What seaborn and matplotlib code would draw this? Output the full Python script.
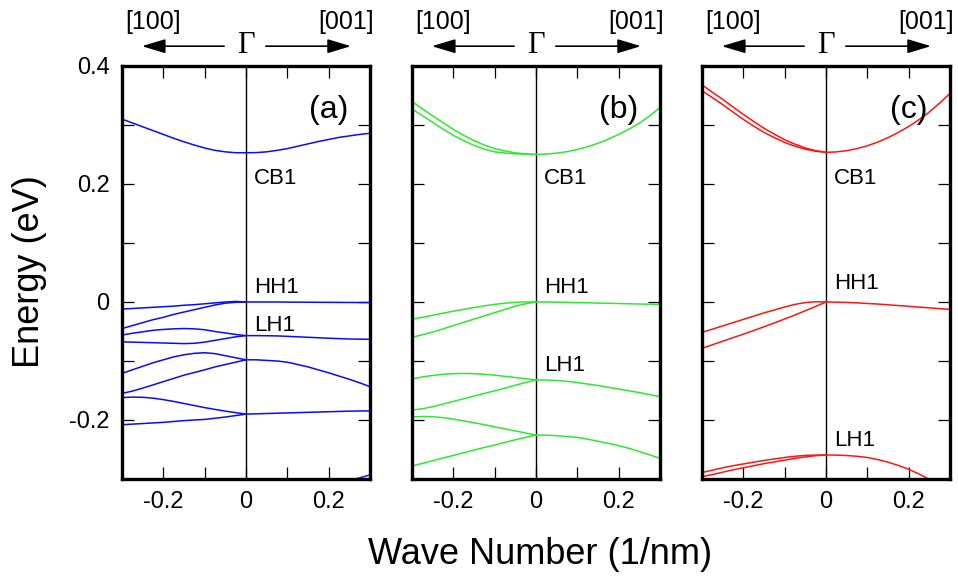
import matplotlib
matplotlib.use("Agg")
import matplotlib.pyplot as plt
from matplotlib.ticker import FixedLocator, FuncFormatter
import numpy as np
import pandas as pd
import seaborn as sns

# Wave-number grids (1/nm): [100] direction on the left of Gamma, [001] on the right
K_LEFT = [-0.3, -0.275, -0.25, -0.225, -0.2, -0.175, -0.15, -0.125, -0.1, -0.075, -0.05, -0.025, 0.0]
K_RIGHT = [0.0, 0.025, 0.05, 0.075, 0.1, 0.125, 0.15, 0.175, 0.2, 0.225, 0.25, 0.275, 0.3]
K_TAIL = [0.2, 0.225, 0.25, 0.275, 0.3]

# Panel (a): subband energies (eV)
A_LEFT_CB1 = [0.310, 0.3035, 0.297, 0.2905, 0.284, 0.2775, 0.2715, 0.266, 0.261, 0.257, 0.2545, 0.253, 0.253]
A_LEFT_HH1a = [-0.012, -0.011, -0.010, -0.009, -0.008, -0.007, -0.0055, -0.0045, -0.003, -0.0015, 0.0, 0.001, 0.0]
A_LEFT_HH1b = [-0.045, -0.040, -0.035, -0.030, -0.026, -0.021, -0.017, -0.013, -0.009, -0.005, -0.002, -0.0005, 0.0]
A_LEFT_LH1a = [-0.056, -0.053, -0.0505, -0.048, -0.0465, -0.0455, -0.045, -0.0455, -0.047, -0.050, -0.0525, -0.055, -0.057]
A_LEFT_LH1b = [-0.0675, -0.068, -0.0685, -0.069, -0.0695, -0.070, -0.0705, -0.070, -0.068, -0.065, -0.062, -0.059, -0.057]
A_LEFT_V3a = [-0.121, -0.115, -0.109, -0.103, -0.098, -0.093, -0.0895, -0.087, -0.086, -0.0875, -0.091, -0.0945, -0.098]
A_LEFT_V3b = [-0.155, -0.151, -0.146, -0.1405, -0.135, -0.1295, -0.124, -0.1195, -0.115, -0.110, -0.106, -0.102, -0.098]
A_LEFT_V4a = [-0.162, -0.1612, -0.1615, -0.163, -0.1655, -0.1685, -0.172, -0.1755, -0.179, -0.182, -0.185, -0.1875, -0.190]
A_LEFT_V4b = [-0.208, -0.207, -0.206, -0.205, -0.204, -0.2025, -0.201, -0.200, -0.199, -0.197, -0.195, -0.1925, -0.190]
A_RIGHT_CB1 = [0.253, 0.2532, 0.2545, 0.257, 0.260, 0.264, 0.268, 0.272, 0.2755, 0.279, 0.2815, 0.284, 0.286]
A_RIGHT_HH1 = [0.0, 0.0, 0.0, 0.0, -0.0002, -0.0003, -0.0004, -0.0005, -0.0006, -0.0007, -0.0008, -0.0009, -0.001]
A_RIGHT_LH1 = [-0.057, -0.057, -0.0572, -0.0575, -0.0582, -0.059, -0.0598, -0.0606, -0.0614, -0.0621, -0.0627, -0.063, -0.0633]
A_RIGHT_V3 = [-0.098, -0.098, -0.099, -0.100, -0.102, -0.106, -0.110, -0.115, -0.120, -0.1255, -0.131, -0.137, -0.1435]
A_RIGHT_V4 = [-0.190, -0.1895, -0.189, -0.1885, -0.188, -0.1875, -0.187, -0.1865, -0.186, -0.1855, -0.185, -0.1847, -0.1845]
A_RIGHT_V5 = [-0.315, -0.309, -0.303, -0.298, -0.293]

# Panel (b)
B_LEFT_CB1a = [0.3395, 0.3275, 0.3155, 0.304, 0.2925, 0.2825, 0.2735, 0.266, 0.260, 0.256, 0.2528, 0.251, 0.2502]
B_LEFT_CB1b = [0.327, 0.316, 0.3045, 0.293, 0.2825, 0.2735, 0.2655, 0.259, 0.2545, 0.2525, 0.2512, 0.2505, 0.2502]
B_LEFT_HH1a = [-0.029, -0.026, -0.0225, -0.019, -0.0155, -0.0125, -0.0095, -0.0065, -0.004, -0.002, -0.0005, 0.0, 0.0]
B_LEFT_HH1b = [-0.060, -0.0555, -0.051, -0.0455, -0.040, -0.0345, -0.029, -0.0235, -0.018, -0.0125, -0.007, -0.003, 0.0]
B_LEFT_LH1a = [-0.1305, -0.127, -0.1245, -0.1225, -0.1215, -0.121, -0.1215, -0.1225, -0.124, -0.126, -0.128, -0.130, -0.132]
B_LEFT_LH1b = [-0.183, -0.181, -0.1775, -0.173, -0.1685, -0.164, -0.1595, -0.155, -0.1505, -0.146, -0.141, -0.1365, -0.132]
B_LEFT_V3a = [-0.195, -0.194, -0.1945, -0.196, -0.1985, -0.2015, -0.2045, -0.208, -0.2115, -0.215, -0.2185, -0.222, -0.2255]
B_LEFT_V3b = [-0.278, -0.2735, -0.269, -0.2645, -0.260, -0.2555, -0.251, -0.2465, -0.2425, -0.238, -0.2335, -0.2295, -0.2255]
B_RIGHT_CB1 = [0.2502, 0.2508, 0.2523, 0.2548, 0.2585, 0.2632, 0.269, 0.276, 0.284, 0.293, 0.303, 0.3155, 0.3295]
B_RIGHT_HH1 = [0.0, 0.0, -0.0003, -0.0006, -0.001, -0.0014, -0.0018, -0.0022, -0.0026, -0.003, -0.0034, -0.0037, -0.004]
B_RIGHT_LH1 = [-0.132, -0.1322, -0.133, -0.1345, -0.1365, -0.139, -0.1415, -0.1445, -0.1475, -0.1505, -0.1535, -0.157, -0.1605]
B_RIGHT_V3 = [-0.2255, -0.2257, -0.2265, -0.228, -0.2295, -0.2325, -0.236, -0.2395, -0.2435, -0.248, -0.2535, -0.259, -0.265]

# Panel (c)
C_LEFT_CB1a = [0.368, 0.3555, 0.3435, 0.3305, 0.318, 0.306, 0.2945, 0.2845, 0.275, 0.2675, 0.261, 0.2565, 0.2537]
C_LEFT_CB1b = [0.358, 0.3465, 0.3345, 0.322, 0.3095, 0.298, 0.2875, 0.2785, 0.2705, 0.264, 0.259, 0.2555, 0.2537]
C_LEFT_HH1a = [-0.0515, -0.046, -0.0405, -0.035, -0.0295, -0.024, -0.0185, -0.0135, -0.0085, -0.004, -0.001, 0.0005, 0.0]
C_LEFT_HH1b = [-0.0785, -0.0725, -0.0665, -0.0605, -0.0545, -0.0483, -0.042, -0.0355, -0.0288, -0.022, -0.0148, -0.0075, 0.0]
C_LEFT_LH1a = [-0.289, -0.285, -0.281, -0.2775, -0.2745, -0.2715, -0.2685, -0.266, -0.2635, -0.2615, -0.260, -0.2595, -0.2593]
C_LEFT_LH1b = [-0.296, -0.2925, -0.2885, -0.2845, -0.281, -0.2775, -0.274, -0.271, -0.268, -0.265, -0.2625, -0.2605, -0.2593]
C_RIGHT_CB1 = [0.2537, 0.2544, 0.2565, 0.260, 0.2648, 0.271, 0.2785, 0.2875, 0.2975, 0.309, 0.322, 0.3372, 0.3536]
C_RIGHT_HH1 = [0.0, -0.0002, -0.0007, -0.0015, -0.0025, -0.0035, -0.0047, -0.006, -0.0073, -0.0086, -0.0099, -0.0112, -0.0125]
C_RIGHT_LH1 = [-0.2593, -0.2595, -0.2602, -0.2615, -0.2635, -0.267, -0.2715, -0.277, -0.2835, -0.2915, -0.3005, -0.310, -0.320]

PANEL_TAGS = ["(a)", "(b)", "(c)"]
PANEL_COLORS = ["#0a0aff", "#2ee82e", "#ff1414"]
LEVEL_NAMES = ["CB1", "HH1", "LH1"]
# label heights (eV) for CB1, HH1, LH1 in each panel
LEVEL_LABEL_E = [[0.21, 0.025, -0.039], [0.21, 0.025, -0.108], [0.21, 0.031, -0.234]]
DIRECTIONS = ["[100]", "[001]"]


def bands_frame(segments):
    rows = []
    for name, ks, es in segments:
        for k, e in zip(ks, es):
            rows.append({"band": name, "k": k, "E": e})
    return pd.DataFrame(rows)


panels = [
    bands_frame([
        ("L_CB1", K_LEFT, A_LEFT_CB1), ("L_HH1a", K_LEFT, A_LEFT_HH1a), ("L_HH1b", K_LEFT, A_LEFT_HH1b),
        ("L_LH1a", K_LEFT, A_LEFT_LH1a), ("L_LH1b", K_LEFT, A_LEFT_LH1b), ("L_V3a", K_LEFT, A_LEFT_V3a),
        ("L_V3b", K_LEFT, A_LEFT_V3b), ("L_V4a", K_LEFT, A_LEFT_V4a), ("L_V4b", K_LEFT, A_LEFT_V4b),
        ("R_CB1", K_RIGHT, A_RIGHT_CB1), ("R_HH1", K_RIGHT, A_RIGHT_HH1), ("R_LH1", K_RIGHT, A_RIGHT_LH1),
        ("R_V3", K_RIGHT, A_RIGHT_V3), ("R_V4", K_RIGHT, A_RIGHT_V4), ("R_V5", K_TAIL, A_RIGHT_V5),
    ]),
    bands_frame([
        ("L_CB1a", K_LEFT, B_LEFT_CB1a), ("L_CB1b", K_LEFT, B_LEFT_CB1b), ("L_HH1a", K_LEFT, B_LEFT_HH1a),
        ("L_HH1b", K_LEFT, B_LEFT_HH1b), ("L_LH1a", K_LEFT, B_LEFT_LH1a), ("L_LH1b", K_LEFT, B_LEFT_LH1b),
        ("L_V3a", K_LEFT, B_LEFT_V3a), ("L_V3b", K_LEFT, B_LEFT_V3b),
        ("R_CB1", K_RIGHT, B_RIGHT_CB1), ("R_HH1", K_RIGHT, B_RIGHT_HH1), ("R_LH1", K_RIGHT, B_RIGHT_LH1),
        ("R_V3", K_RIGHT, B_RIGHT_V3),
    ]),
    bands_frame([
        ("L_CB1a", K_LEFT, C_LEFT_CB1a), ("L_CB1b", K_LEFT, C_LEFT_CB1b), ("L_HH1a", K_LEFT, C_LEFT_HH1a),
        ("L_HH1b", K_LEFT, C_LEFT_HH1b), ("L_LH1a", K_LEFT, C_LEFT_LH1a), ("L_LH1b", K_LEFT, C_LEFT_LH1b),
        ("R_CB1", K_RIGHT, C_RIGHT_CB1), ("R_HH1", K_RIGHT, C_RIGHT_HH1), ("R_LH1", K_RIGHT, C_RIGHT_LH1),
    ]),
]

sns.set_theme(style="ticks")
plt.rcParams["font.family"] = ["Liberation Sans", "DejaVu Sans"]
plt.rcParams["axes.unicode_minus"] = False

fig = plt.figure(figsize=(9.58, 5.81), dpi=100)
W, H = 958.0, 581.0
lefts = [122, 412, 702]
ax_w, ax_top, ax_bot = 248, 66, 479

ticks = [-0.3, -0.2, -0.1, 0.0, 0.1, 0.2, 0.3, 0.4]


def fmt(v, _pos):
    if abs(round(v / 0.2) * 0.2 - v) > 1e-6:
        return ""
    if abs(v) < 1e-9:
        return "0"
    return f"{v:.1f}"


axes = []
for i, df in enumerate(panels):
    ax = fig.add_axes([lefts[i] / W, 1 - ax_bot / H, ax_w / W, (ax_bot - ax_top) / H])
    axes.append(ax)
    sns.lineplot(data=df, x="k", y="E", units="band", estimator=None, sort=False,
                 color=PANEL_COLORS[i], lw=1.1, ax=ax, legend=False)
    ax.axvline(0.0, color="black", lw=1.0, zorder=1)
    ax.set_xlim(-0.3, 0.3)
    ax.set_ylim(-0.3, 0.4)
    ax.xaxis.set_major_locator(FixedLocator([-0.3, -0.2, -0.1, 0.0, 0.1, 0.2, 0.3]))
    ax.yaxis.set_major_locator(FixedLocator(ticks))
    ax.xaxis.set_major_formatter(FuncFormatter(fmt))
    ax.yaxis.set_major_formatter(FuncFormatter(fmt))
    ax.tick_params(direction="in", length=8.5, width=0.9, top=True, right=True,
                   labelsize=17, color="black", labelcolor="black", pad=9)
    if i > 0:
        ax.tick_params(labelleft=False)
    for s in ax.spines.values():
        s.set_linewidth(2.4)
        s.set_color("black")
    ax.set_xlabel("")
    ax.set_ylabel("")

    # panel tag and level names
    ax.text(0.2, 0.325, PANEL_TAGS[i], fontsize=23, ha="center", va="center", color="black")
    for name, e in zip(LEVEL_NAMES, LEVEL_LABEL_E[i]):
        ax.text(0.02, e, name, fontsize=16, ha="left", va="center", color="black")

    # crystal directions with Gamma between the arrows
    ax.text(-0.225, 1.107, DIRECTIONS[0], transform=ax.get_xaxis_transform(),
            fontsize=18, ha="center", va="center", color="black")
    ax.text(0.242, 1.107, DIRECTIONS[1], transform=ax.get_xaxis_transform(),
            fontsize=18, ha="center", va="center", color="black")
    ax.text(0.0, 1.05, "\u0393", transform=ax.get_xaxis_transform(),
            fontsize=22, ha="center", va="center", color="black",
            family=["Liberation Serif", "DejaVu Serif"])
    arrow = dict(arrowstyle="-|>,head_length=0.8,head_width=0.24", lw=1.2, color="black",
                 mutation_scale=18, shrinkA=0, shrinkB=0)
    ax.annotate("", xy=(-0.252, 1.048), xytext=(-0.053, 1.048),
                xycoords=ax.get_xaxis_transform(), textcoords=ax.get_xaxis_transform(),
                arrowprops=arrow, annotation_clip=False)
    ax.annotate("", xy=(0.254, 1.048), xytext=(0.048, 1.048),
                xycoords=ax.get_xaxis_transform(), textcoords=ax.get_xaxis_transform(),
                arrowprops=arrow, annotation_clip=False)

fig.text(30 / W, 1 - 272 / H, "Energy (eV)", rotation=90, fontsize=26,
         ha="center", va="center", color="black")
fig.text(540 / W, 1 - 555 / H, "Wave Number (1/nm)", fontsize=26,
         ha="center", va="center", color="black")

fig.savefig("out.png", dpi=100, facecolor="white")
